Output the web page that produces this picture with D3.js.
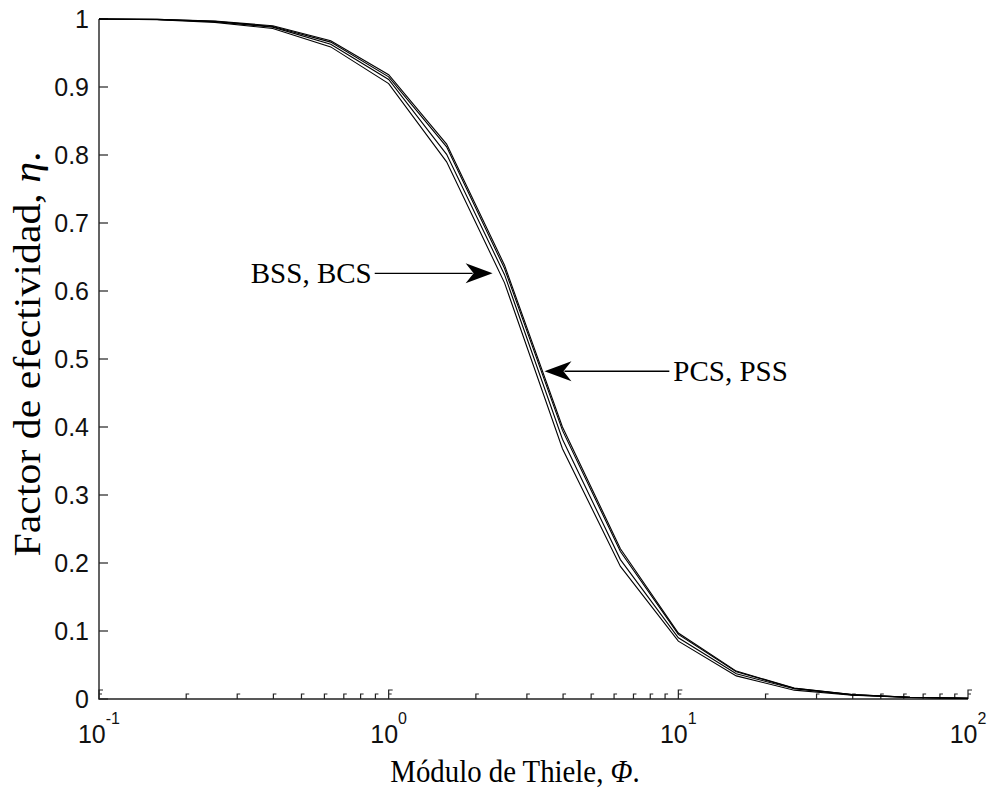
<!DOCTYPE html>
<html>
  <head>
    <meta charset="utf-8">
    <title>Factor de efectividad</title>
<style>
body { margin: 0; background: #fff; }
.curve { fill: none; stroke: #000; stroke-width: 1.1px; }
.axis-line { stroke: #222; stroke-width: 1.4px; fill: none; }
.tick { stroke: #222; stroke-width: 1.2px; fill: none; }
.ticklbl { font-family: "Liberation Sans", Arial, sans-serif; font-size: 25px; fill: #111; }
.title { font-family: "Liberation Serif", "Times New Roman", serif; fill: #000; }
.note { font-family: "Liberation Serif", "Times New Roman", serif; font-size: 29px; fill: #000; }
</style>
    <script src="https://d3js.org/d3.v7.min.js"></script>
  </head>
  <body>
    <svg id="chart" width="990" height="788"></svg>
    <script type="text/javascript">

    // Thiele modulus samples (log spaced) and effectiveness factor per geometry
    var phi    = [0.1, 0.1585, 0.2512, 0.3981, 0.631, 1, 1.585, 2.512, 3.981, 6.31, 10, 15.85, 25.12, 39.81, 63.1, 100];
    var etaPCS = [1.000, 0.9995, 0.997, 0.990, 0.968, 0.918, 0.816, 0.638, 0.400, 0.221, 0.097, 0.041, 0.016, 0.0065, 0.0026, 0.0010];
    var etaPSS = [1.000, 0.9994, 0.9965, 0.989, 0.966, 0.915, 0.812, 0.633, 0.395, 0.217, 0.095, 0.040, 0.0158, 0.0064, 0.0025, 0.0010];
    var etaBCS = [1.000, 0.9992, 0.996, 0.988, 0.963, 0.911, 0.801, 0.624, 0.382, 0.205, 0.090, 0.037, 0.015, 0.0060, 0.0024, 0.0010];
    var etaBSS = [1.000, 0.999, 0.995, 0.986, 0.959, 0.905, 0.790, 0.612, 0.368, 0.195, 0.085, 0.034, 0.013, 0.0055, 0.0022, 0.0009];

    var yTicks = [0, 0.1, 0.2, 0.3, 0.4, 0.5, 0.6, 0.7, 0.8, 0.9, 1];
    var xMajor = [0.1, 1, 10, 100];
    var xExp   = ["-1", "0", "1", "2"];

    // annotations: label, arrow tip on curve (phi, eta), start of the arrow line in phi
    var notes = [
      {text: "BSS, BCS", phi: 2.285, eta: 0.626, side: "left",  lx: 0.895},
      {text: "PCS, PSS", phi: 3.45,  eta: 0.482, side: "right", lx: 9.31}
    ];

    var svg = d3.select("#chart");

    var x = d3.scaleLog().domain([0.1, 100]).range([99, 968]);
    var y = d3.scaleLinear().domain([0, 1]).range([699, 19]);

    // axes lines (no box on top/right)
    svg.append("path").attr("class", "axis-line")
      .attr("d", "M" + x(0.1) + "," + y(1) + "V" + y(0) + "H" + x(100));

    // y ticks, inward
    yTicks.forEach(function(t) {
      svg.append("line").attr("class", "tick")
        .attr("x1", x(0.1)).attr("x2", x(0.1) + 9)
        .attr("y1", y(t)).attr("y2", y(t));
      svg.append("text").attr("class", "ticklbl")
        .attr("x", 89).attr("y", y(t)).attr("dy", "0.36em")
        .attr("text-anchor", "end")
        .text(t);
    });

    // x minor + major ticks, inward
    var minor = [];
    for (var d = 0.1; d < 100; d *= 10) {
      for (var k = 2; k <= 9; k++) minor.push(d * k);
    }
    minor.forEach(function(t) {
      svg.append("path").attr("class", "tick")
        .attr("d", "M" + x(t) + "," + y(0) + "v-5h3");
    });
    xMajor.forEach(function(t, i) {
      var px = x(t);
      svg.append("path").attr("class", "tick")
        .attr("d", "M" + px + "," + y(0) + "v-9h4M" + px + "," + (y(0) - 5) + "h3");
      var lbl = svg.append("text").attr("class", "ticklbl")
        .attr("x", px).attr("y", 743)
        .attr("text-anchor", "middle");
      lbl.append("tspan").text("10");
      lbl.append("tspan").attr("dy", -19).attr("font-size", "16px").text(xExp[i]);
    });

    // curves
    var line = d3.line()
      .x(function(d) { return x(d[0]); })
      .y(function(d) { return y(d[1]); });

    [etaBSS, etaBCS, etaPSS, etaPCS].forEach(function(s) {
      svg.append("path").attr("class", "curve")
        .attr("d", line(phi.map(function(p, i) { return [p, s[i]]; })));
    });

    // arrows with labels
    notes.forEach(function(n) {
      var tx = x(n.phi), ty = y(n.eta), lx = x(n.lx);
      var dir = n.side === "left" ? 1 : -1;
      svg.append("line")
        .attr("x1", lx).attr("x2", tx - dir * 20)
        .attr("y1", ty).attr("y2", ty)
        .attr("stroke", "#000").attr("stroke-width", 1.3);
      svg.append("path")
        .attr("d", "M" + tx + "," + ty +
          "L" + (tx - dir * 27) + "," + (ty - 10) +
          "L" + (tx - dir * 19) + "," + ty +
          "L" + (tx - dir * 27) + "," + (ty + 10) + "Z")
        .attr("fill", "#000");
      svg.append("text").attr("class", "note")
        .attr("x", n.side === "left" ? lx - 3 : lx + 4)
        .attr("y", ty).attr("dy", "0.33em")
        .attr("text-anchor", n.side === "left" ? "end" : "start")
        .text(n.text);
    });

    // axis titles
    var xt = svg.append("text").attr("class", "title")
      .attr("transform", "translate(515,782) scale(0.9,1)")
      .attr("text-anchor", "middle")
      .attr("font-size", "32px");
    xt.append("tspan").text("Módulo de Thiele, ");
    xt.append("tspan").attr("font-style", "italic").text("Φ");
    xt.append("tspan").text(".");

    var yt = svg.append("text").attr("class", "title")
      .attr("transform", "translate(40,354) rotate(-90) scale(1.1,1)")
      .attr("text-anchor", "middle")
      .attr("font-size", "38px");
    yt.append("tspan").text("Factor de efectividad, ");
    yt.append("tspan").attr("font-style", "italic").text("η");
    yt.append("tspan").text(".");

    </script>
  </body>
</html>
